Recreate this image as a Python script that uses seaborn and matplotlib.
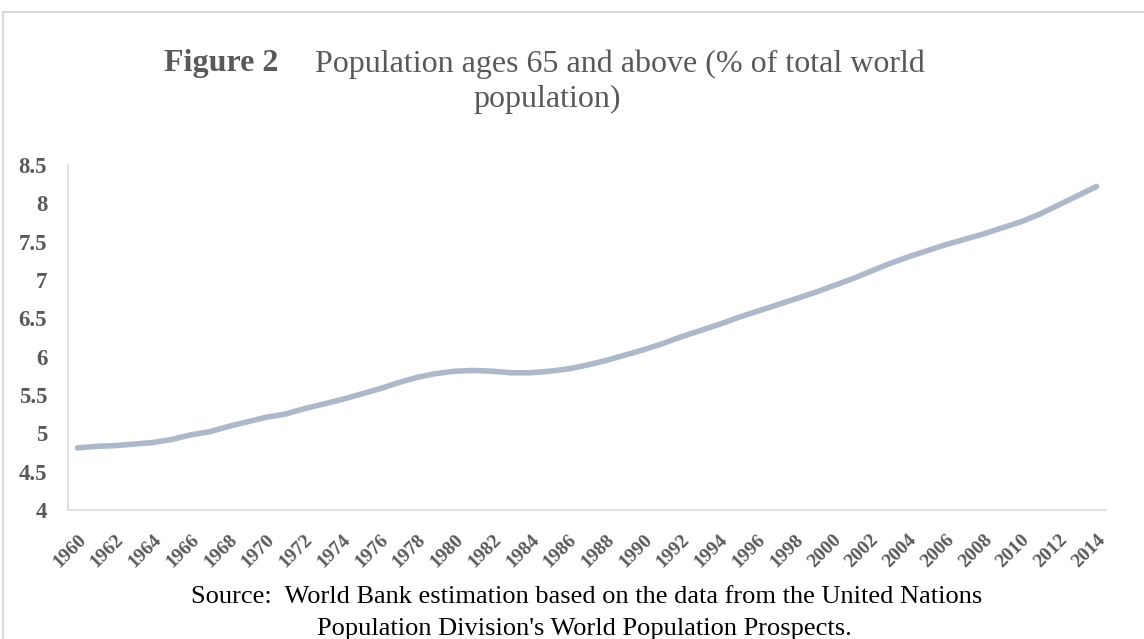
import matplotlib
matplotlib.use("Agg")
import matplotlib.pyplot as plt
import seaborn as sns
import pandas as pd
from matplotlib.patches import Rectangle

years = list(range(1960, 2015))
share_65_plus = [
    4.81, 4.83, 4.84, 4.86, 4.88, 4.92, 4.98, 5.02, 5.09, 5.15,
    5.21, 5.25, 5.32, 5.38, 5.44, 5.51, 5.58, 5.66, 5.73, 5.78,
    5.81, 5.82, 5.81, 5.79, 5.79, 5.81, 5.84, 5.89, 5.95, 6.02,
    6.09, 6.17, 6.26, 6.34, 6.42, 6.51, 6.59, 6.67, 6.75, 6.83,
    6.92, 7.01, 7.11, 7.21, 7.30, 7.38, 7.46, 7.53, 7.60, 7.68,
    7.76, 7.86, 7.98, 8.10, 8.22,
]
y_ticks = [4, 4.5, 5, 5.5, 6, 6.5, 7, 7.5, 8, 8.5]
y_tick_labels = ["4", "4.5", "5", "5.5", "6", "6.5", "7", "7.5", "8", "8.5"]
x_ticks = list(range(1960, 2015, 2))

title_bold = "Figure 2"
title_rest = "Population ages 65 and above (% of total world"
title_line2 = "population)"
source_line1 = "Source:  World Bank estimation based on the data from the United Nations"
source_line2 = "Population Division's World Population Prospects."

df = pd.DataFrame({"year": years, "value": share_65_plus})

sns.set_theme(style="white")
plt.rcParams["font.family"] = ["Liberation Serif", "DejaVu Serif"]

W, H = 1144, 639
fig = plt.figure(figsize=(W / 100, H / 100), dpi=100)
ax = fig.add_axes([68 / W, 1 - 510 / H, (1106 - 68) / W, (510 - 165) / H])

sns.lineplot(data=df, x="year", y="value", ax=ax, color="#ADB9CA",
             linewidth=4, solid_capstyle="round", solid_joinstyle="round")

ax.set_xlim(1959.5, 2014.5)
ax.set_ylim(4, 8.5)
ax.set_yticks(y_ticks)
ax.set_yticklabels(y_tick_labels)
ax.set_xticks(x_ticks)
ax.set_xticklabels([str(y) for y in x_ticks], rotation=45, ha="right",
                   rotation_mode="anchor")
ax.set_xlabel("")
ax.set_ylabel("")

for lab in ax.get_yticklabels():
    lab.set_fontsize(16.5)
    lab.set_fontweight("bold")
    lab.set_color("#595959")
for lab in ax.get_xticklabels():
    lab.set_fontsize(14)
    lab.set_fontweight("bold")
    lab.set_color("#595959")

ax.tick_params(axis="y", length=0, pad=15)
ax.tick_params(axis="x", length=0, pad=15)

for side in ["top", "right"]:
    ax.spines[side].set_visible(False)
for side in ["left", "bottom"]:
    ax.spines[side].set_color("#D9D9D9")
    ax.spines[side].set_linewidth(1.2)

# outer chart border
fig.patches.append(Rectangle((3 / W, -0.05), 1.2, (1 - 12 / H) + 0.05,
                             transform=fig.transFigure, fill=False,
                             edgecolor="#D9D9D9", linewidth=1.5))

fig.text(164 / W, 1 - 64 / H, title_bold, ha="left", va="center",
         fontsize=23, fontweight="bold", color="#595959")
fig.text(315 / W, 1 - 64 / H, title_rest, ha="left", va="center",
         fontsize=23, color="#595959")
fig.text(547 / W, 1 - 99 / H, title_line2, ha="center", va="center",
         fontsize=23, color="#595959")

fig.text(587 / W, 1 - 597 / H, source_line1, ha="center", va="center",
         fontsize=19, color="black")
fig.text(584 / W, 1 - 629 / H, source_line2, ha="center", va="center",
         fontsize=19, color="black")

fig.savefig("out.png", dpi=100, facecolor="white")
